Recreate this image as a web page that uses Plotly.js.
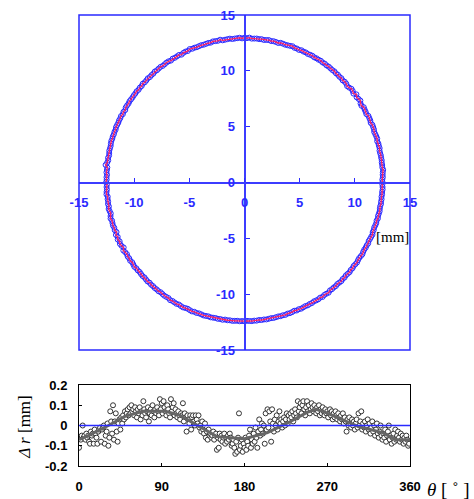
<!DOCTYPE html>
<html>
<head>
<meta charset="utf-8">
<script src="https://cdn.plot.ly/plotly-3.0.1.min.js"></script>
<style>html,body{margin:0;padding:0;background:#fff;}#chart{width:474px;height:499px;}</style>
</head>
<body>
<div id="chart"></div>
<script>
// Measured radial deviation (mm), one value per degree, theta = 0..359
const deltaR = [
 -0.11,-0.06,-0.07,-0.05,0.00,-0.06,-0.05,-0.07,-0.04,-0.06,
 -0.05,-0.08,-0.09,-0.03,-0.05,-0.04,-0.09,-0.02,-0.04,-0.06,
 -0.09,-0.03,-0.02,-0.01,-0.08,-0.02,-0.01,0.00,-0.09,-0.05,
 -0.03,0.01,-0.10,-0.06,0.07,0.02,-0.04,0.10,-0.07,0.02,
 0.06,-0.03,-0.08,0.01,0.03,-0.02,0.04,0.01,0.05,0.03,
 0.07,0.04,0.06,0.08,0.05,0.09,0.06,0.10,0.07,0.08,
 0.05,0.09,0.07,0.04,0.08,0.06,0.09,0.03,0.07,0.05,
 0.12,0.08,0.06,0.04,0.07,0.09,0.02,0.06,0.08,0.05,
 0.10,0.07,0.04,0.08,0.06,0.09,0.07,0.05,0.13,0.08,
 0.11,0.06,0.12,0.09,0.07,0.05,0.10,0.08,0.06,0.04,
 0.13,0.07,0.09,0.11,0.05,0.08,0.06,0.04,0.07,0.05,
 0.03,0.06,0.05,0.11,0.02,0.06,0.04,-0.03,0.05,0.03,
 0.01,0.05,-0.02,0.04,0.05,0.02,0.00,0.05,0.03,0.01,
 0.05,-0.01,0.00,-0.03,0.02,-0.02,-0.04,0.01,-0.06,-0.03,
 -0.07,-0.02,-0.05,-0.04,-0.06,-0.05,-0.03,-0.07,-0.05,-0.04,
 -0.12,-0.06,-0.11,-0.04,-0.07,-0.05,-0.08,-0.06,-0.04,-0.09,
 -0.06,-0.08,-0.05,-0.07,-0.04,-0.06,-0.10,-0.09,-0.07,-0.11,
 -0.14,-0.08,-0.13,-0.06,0.06,-0.12,-0.10,-0.07,-0.13,-0.09,
 -0.11,-0.06,-0.12,-0.08,-0.10,-0.05,-0.02,-0.11,-0.07,-0.09,
 -0.04,-0.08,-0.01,-0.06,-0.11,-0.03,0.03,-0.05,-0.02,0.01,
 -0.04,0.00,-0.09,0.06,-0.02,0.08,-0.01,0.07,0.02,-0.08,
 0.08,0.01,-0.03,0.03,0.00,0.05,-0.02,0.02,0.07,0.01,
 0.03,-0.01,0.02,0.04,0.00,0.03,0.06,0.01,0.05,0.03,
 0.06,0.04,0.07,0.02,0.05,0.08,0.06,0.04,0.12,0.07,
 0.09,0.11,0.06,0.10,0.12,0.08,0.05,0.09,0.12,0.07,
 0.10,0.06,0.08,0.11,0.09,0.07,0.10,0.08,0.06,0.09,
 0.07,0.10,0.05,0.08,0.06,0.09,0.07,0.05,0.08,0.06,
 0.07,0.04,0.06,0.08,0.05,0.07,0.03,0.06,0.04,0.07,
 0.05,0.03,0.06,0.04,0.02,0.05,0.03,0.06,0.01,0.04,
 0.02,-0.03,0.03,0.00,0.04,0.01,-0.01,0.03,0.00,0.02,
 -0.02,0.01,0.03,-0.01,0.06,0.00,0.02,0.07,-0.02,0.01,
 -0.01,0.02,-0.03,0.00,0.03,-0.02,0.01,-0.04,-0.01,0.02,
 -0.03,0.00,-0.05,-0.02,0.01,-0.04,-0.06,-0.03,0.00,-0.05,
 -0.07,-0.04,-0.06,-0.02,-0.08,-0.05,-0.03,0.00,-0.07,-0.05,
 -0.09,-0.06,-0.04,-0.08,-0.02,-0.07,-0.05,-0.03,-0.06,-0.08,
 -0.04,-0.07,-0.05,-0.09,-0.06,-0.08,-0.05,-0.07,-0.10,-0.09
];
const thetaDeg = deltaR.map((_, i) => i); // measurement angle, 1 degree steps

// Trend line (grey) vertices
const trendTheta = [0, 10, 32, 50, 69, 94, 110, 136, 150, 180, 205, 228, 248, 258, 268, 304, 330, 345, 360];
const trendDr    = [-0.07, -0.05, 0, 0.045, 0.07, 0.07, 0.05, -0.02, -0.055, -0.065, -0.035, 0.015, 0.065, 0.08, 0.065, -0.005, -0.035, -0.07, -0.07];

// Nominal circle (mm)
const radius = 12.6;
const centerX = 0.0;
const centerY = 0.25;

const topTicks = [-15, -10, -5, 0, 5, 10, 15];
const topTickText = ['-15', '-10', '-5', '0', '5', '10', '15'];
const botXTicks = [0, 90, 180, 270, 360];
const botXText = ['0', '90', '180', '270', '360'];
const botYTicks = [-0.2, -0.1, 0, 0.1, 0.2];
const botYText = ['-0.2', '-0.1', '0', '0.1', '0.2'];

// Profile points in x-y from polar measurement
const px = thetaDeg.map((t, i) => centerX + (radius + deltaR[i]) * Math.cos(t * Math.PI / 180));
const py = thetaDeg.map((t, i) => centerY + (radius + deltaR[i]) * Math.sin(t * Math.PI / 180));
const lx = px.concat([px[0]]);
const ly = py.concat([py[0]]);

const BLUE = '#2a2aff';
const AXIS_BLUE = '#3c3cff';
const LW = 1.5;
const TOP_DOMAIN = [0.2572, 1];
const tickFontTop = {family: 'Arial, Liberation Sans, sans-serif', size: 13, color: BLUE, weight: 'bold'};
const tickFontBot = {family: 'Arial, Liberation Sans, sans-serif', size: 13, color: '#000', weight: 'bold'};

const traces = [
  {x: px, y: py, xaxis: 'x', yaxis: 'y', mode: 'markers', type: 'scatter',
   marker: {symbol: 'circle-open', size: 5, color: BLUE, line: {width: 1, color: BLUE}}, hoverinfo: 'skip'},
  {x: lx, y: ly, xaxis: 'x', yaxis: 'y', mode: 'lines', type: 'scatter',
   line: {color: '#ff2060', width: 1.3}, hoverinfo: 'skip'},
  {x: thetaDeg, y: deltaR, xaxis: 'x2', yaxis: 'y2', mode: 'markers', type: 'scatter',
   marker: {symbol: 'circle', size: 5, color: '#fff', line: {width: 1, color: '#333'}}, hoverinfo: 'skip'},
  {x: trendTheta, y: trendDr, xaxis: 'x2', yaxis: 'y2', mode: 'lines', type: 'scatter',
   line: {color: '#666', width: 3}, hoverinfo: 'skip'}
];

const layout = {
  width: 474, height: 499,
  margin: {l: 79, r: 64, t: 15, b: 33, pad: 0},
  paper_bgcolor: '#fff', plot_bgcolor: '#fff',
  showlegend: false,
  xaxis: {domain: [0, 1], range: [-15, 15], anchor: 'free', position: 0.6286,
    tickmode: 'array', tickvals: topTicks, ticktext: topTickText, ticks: 'inside', ticklen: 4, tickcolor: BLUE, tickwidth: 1,
    showline: true, linecolor: AXIS_BLUE, linewidth: 2, showgrid: false, zeroline: false,
    tickfont: tickFontTop, ticklabelstandoff: 8},
  yaxis: {domain: TOP_DOMAIN, range: [-15, 15], anchor: 'free', position: 0.5,
    tickmode: 'array', tickvals: topTicks, ticktext: topTickText, ticks: 'inside', ticklen: 4, tickcolor: BLUE, tickwidth: 1,
    showline: true, linecolor: AXIS_BLUE, linewidth: 2, showgrid: false, zeroline: false,
    tickfont: tickFontTop, ticklabelstandoff: 6},
  xaxis2: {domain: [0, 1], range: [0, 360], anchor: 'y2',
    tickmode: 'array', tickvals: botXTicks, ticktext: botXText, ticks: 'inside', ticklen: 3, tickcolor: '#000',
    showline: true, mirror: true, linecolor: '#000', linewidth: 1, showgrid: false, zeroline: false,
    tickfont: tickFontBot, ticklabelstandoff: 8},
  yaxis2: {domain: [0, 0.1796], range: [-0.2, 0.2], anchor: 'x2',
    tickmode: 'array', tickvals: botYTicks, ticktext: botYText, ticks: 'inside', ticklen: 3, tickcolor: '#000',
    showline: true, mirror: true, linecolor: '#000', linewidth: 1, showgrid: false, zeroline: false,
    tickfont: tickFontBot, ticklabelstandoff: 8},
  shapes: [
    {type: 'rect', xref: 'paper', yref: 'paper', x0: 0, x1: 1, y0: TOP_DOMAIN[0], y1: TOP_DOMAIN[1], line: {color: BLUE, width: LW}},
    {type: 'line', xref: 'x2', yref: 'y2', x0: 0, x1: 360, y0: 0, y1: 0, line: {color: BLUE, width: 1.5}}
  ],
  annotations: [
    {xref: 'x', yref: 'y', x: 13.4, y: -4.9, text: '[mm]', showarrow: false,
     font: {family: 'Liberation Serif, Times New Roman, serif', size: 15, color: '#000'}},
    {xref: 'paper', yref: 'paper', x: -0.163, y: 0.087, xanchor: 'center', yanchor: 'middle',
     text: '<i>Δ r</i> [mm]', showarrow: false, textangle: -90,
     font: {family: 'Liberation Serif, Times New Roman, serif', size: 17, color: '#000'}},
    {xref: 'paper', yref: 'paper', x: 1.117, y: -0.051, xanchor: 'center', yanchor: 'middle',
     text: '<i>θ</i> [ ˚ ]', showarrow: false,
     font: {family: 'Liberation Serif, Times New Roman, serif', size: 19, color: '#000'}}
  ]
};

Plotly.newPlot('chart', traces, layout, {staticPlot: true, displayModeBar: false});
</script>
</body>
</html>
